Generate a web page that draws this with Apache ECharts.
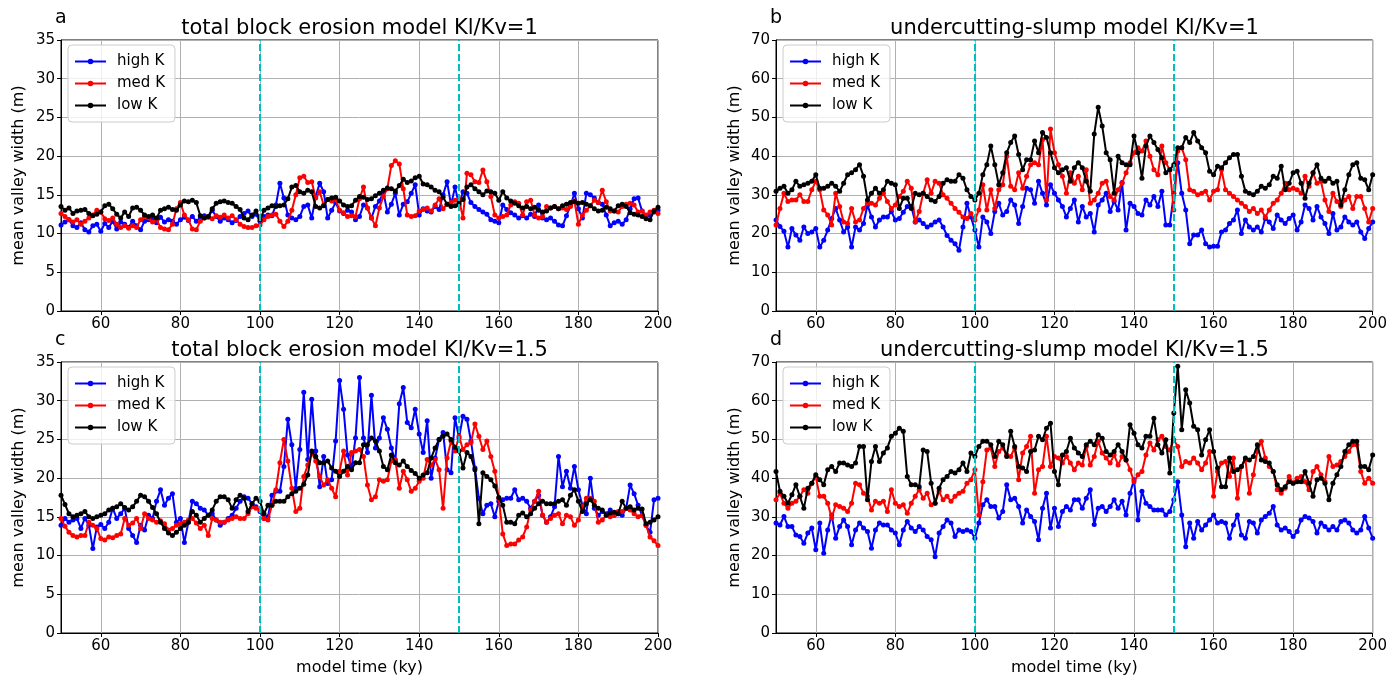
<!DOCTYPE html>
<html>
<head>
<meta charset="utf-8">
<script src="https://cdn.jsdelivr.net/npm/echarts@6/dist/echarts.min.js"></script>
<style>
html,body{margin:0;padding:0;background:#fff;}
#chart{width:1390px;height:677px;}
</style>
</head>
<body>
<div id="chart"></div>
<script>
// model time (ky): one sample per ky from 50 to 200
const timeStart = 50, timeEnd = 200;
const xTicks = [60, 80, 100, 120, 140, 160, 180, 200];
const yTicksA = [0, 5, 10, 15, 20, 25, 30, 35];
const yTicksB = [0, 10, 20, 30, 40, 50, 60, 70];
const transitions = [100, 150];
const seriesNames = ['high K', 'med K', 'low K'];
const panelTitles = [
  'total block erosion model Kl/Kv=1',
  'undercutting-slump model Kl/Kv=1',
  'total block erosion model Kl/Kv=1.5',
  'undercutting-slump model Kl/Kv=1.5'
];
const panelLetters = ['a', 'b', 'c', 'd'];

// ---- panel a ----
const aHigh = [
11.1,11.5,11.8,11.0,10.8,11.4,10.5,10.2,11.0,11.2,
10.3,11.3,10.8,11.6,10.6,11.5,11.2,10.8,11.6,11.0,
10.5,11.6,11.8,12.0,11.4,12.1,11.5,11.8,11.6,11.2,
11.8,12.1,11.7,12.2,11.6,12.0,12.3,12.1,13.0,12.2,
11.6,12.0,11.8,11.4,11.7,12.2,12.6,12.9,12.2,12.5,
11.6,12.2,12.4,12.3,13.7,16.5,14.6,12.4,12.0,11.8,
12.2,13.5,13.7,12.0,14.8,16.5,15.4,12.0,13.0,14.0,
12.9,12.6,13.0,12.8,11.8,12.2,13.7,13.3,12.0,13.5,
14.2,15.3,12.8,13.8,15.2,12.4,13.8,14.1,15.2,16.3,
12.4,13.2,12.9,12.8,13.5,13.1,15.0,16.7,13.7,16.0,
13.7,15.4,15.2,14.0,13.5,13.1,12.8,12.5,11.8,11.6,
11.4,13.7,13.1,12.7,12.4,12.0,12.3,12.0,12.5,12.2,
13.7,12.0,11.8,12.0,11.6,11.1,11.0,12.3,13.6,15.2,
13.2,12.0,15.2,15.0,14.6,14.0,13.8,12.4,11.0,11.4,
11.6,11.2,11.8,13.2,14.5,14.6,12.9,12.2,12.4,12.8,
13.0];
const aMed = [
12.6,12.2,11.8,11.5,11.8,11.2,11.6,12.0,12.4,13.0,
12.8,11.9,11.7,12.0,11.2,10.8,11.0,10.7,11.0,10.8,
11.8,12.2,12.0,11.5,11.8,10.8,10.6,10.5,11.2,13.2,
14.0,12.4,11.8,10.6,10.5,11.6,12.0,12.2,11.9,12.3,
12.1,12.4,12.0,12.3,11.8,11.2,10.9,10.8,10.8,11.0,
11.1,11.8,12.2,12.4,12.5,11.6,10.9,11.6,13.0,15.0,
17.2,17.4,16.6,16.7,14.6,15.4,13.7,14.4,14.2,14.4,
13.0,12.7,12.2,12.3,12.2,14.5,16.0,13.3,12.0,11.0,
13.3,14.8,15.8,18.8,19.4,19.0,15.8,12.4,12.2,12.3,
12.9,13.1,13.3,12.9,13.7,14.5,13.2,13.8,14.0,14.3,
14.5,12.0,17.8,17.6,16.7,16.6,18.2,16.7,14.8,12.4,
12.0,12.2,12.4,13.7,14.1,13.9,12.4,14.1,14.3,12.4,
12.0,12.2,13.5,13.3,13.5,13.2,13.3,13.1,13.5,14.2,
11.2,12.4,13.0,13.6,14.3,14.0,15.6,14.1,12.9,12.9,
12.8,13.5,13.8,13.9,13.7,12.8,12.9,12.4,12.8,13.0,
12.6];
const aLow = [
13.5,13.0,13.3,12.6,12.9,13.0,13.1,12.6,12.3,12.5,
12.8,13.6,13.8,13.2,12.5,12.0,12.8,12.2,13.3,13.4,
13.0,12.4,12.2,12.4,12.0,13.0,13.2,13.4,13.1,13.0,
13.7,14.2,14.1,14.3,14.0,12.3,12.0,12.2,13.2,13.9,
14.1,14.2,14.0,13.9,13.5,13.1,12.0,11.8,12.4,12.9,
11.8,13.0,13.3,13.6,13.5,13.6,13.7,14.5,16.0,16.2,
15.4,15.2,15.6,15.4,13.5,13.3,13.6,14.4,14.6,14.7,
14.2,13.7,13.5,13.6,14.3,14.8,14.7,14.4,14.5,14.9,
15.2,15.6,15.9,15.8,15.5,16.2,17.0,16.6,16.8,17.2,
17.4,16.4,16.3,16.0,15.6,15.4,14.7,13.8,13.5,13.6,
13.9,14.4,16.0,16.3,15.8,15.4,15.0,15.5,15.4,15.2,
14.3,15.4,14.6,14.2,13.9,13.6,13.3,13.5,13.2,13.4,
13.0,12.8,12.9,13.3,13.5,13.2,13.6,13.8,14.0,14.1,
13.9,14.0,13.8,13.6,13.2,12.9,13.0,13.4,13.2,12.9,
13.6,13.8,13.5,12.7,12.5,12.4,12.2,11.9,11.8,12.9,
13.4];

// ---- panel b ----
const bHigh = [
23.5,21.8,20.6,16.5,21.3,19.6,18.3,21.7,20.0,20.4,
21.3,16.5,18.3,20.9,23.9,26.5,23.5,20.4,21.7,16.5,
21.7,20.9,22.6,27.4,24.3,21.7,23.5,24.3,24.3,25.7,
23.5,23.9,25.5,27.0,27.0,23.0,23.5,22.6,21.7,22.2,
23.0,23.5,21.7,19.5,18.3,17.4,15.7,21.7,27.8,24.3,
20.9,16.5,24.3,23.0,20.0,25.7,27.8,24.8,25.7,28.7,
27.4,22.6,27.0,31.7,31.3,27.8,33.5,30.4,27.4,32.6,
30.4,28.7,27.0,24.3,26.5,28.7,23.0,27.0,24.3,25.2,
20.4,27.4,28.7,30.4,25.7,28.3,26.1,33.2,20.9,27.8,
27.0,25.2,24.8,28.7,27.4,29.6,27.0,30.9,22.2,22.2,
30.4,38.3,30.4,26.1,17.4,19.6,19.6,20.9,17.4,16.5,
16.7,16.7,20.4,20.9,22.6,23.5,26.1,20.0,23.5,21.7,
20.9,21.7,20.4,23.9,23.0,21.3,24.8,23.5,22.6,23.9,
24.8,20.9,23.0,27.4,26.5,23.5,27.0,24.3,22.6,20.0,
25.2,20.9,21.7,24.3,23.0,22.2,23.0,20.4,18.7,21.3,
23.0];
const bMed = [
22.2,26.5,30.4,28.3,28.7,28.7,30.0,28.3,28.3,31.3,
33.5,31.3,26.1,24.8,22.2,30.4,27.0,23.0,22.6,26.5,
23.0,23.5,26.5,27.8,27.8,27.4,29.1,30.4,28.3,26.5,
27.4,29.6,30.9,33.5,31.7,23.0,25.7,30.4,33.9,30.4,
33.5,33.0,30.0,29.1,27.8,26.5,25.5,24.3,23.9,25.2,
23.5,26.1,32.6,26.1,31.3,26.5,31.3,32.6,40.0,32.2,
31.3,35.7,31.7,34.8,37.8,38.3,37.8,44.3,28.7,47.0,
40.9,37.8,34.8,30.4,35.7,33.0,34.8,31.3,36.5,27.8,
28.7,30.4,33.0,33.5,29.6,28.7,31.3,33.0,35.7,38.3,
40.9,42.2,41.3,43.9,40.0,36.5,35.2,42.6,38.3,36.5,
26.1,41.3,42.2,39.1,31.3,30.9,30.0,30.4,30.9,28.7,
30.9,31.3,36.5,31.3,30.4,29.6,28.7,27.8,27.0,25.7,
26.5,25.2,26.1,24.3,26.1,27.8,28.7,30.4,33.0,31.3,
31.7,31.3,30.4,34.8,32.2,35.7,33.0,33.5,28.7,25.7,
30.4,28.3,27.0,28.7,29.6,26.5,29.6,29.6,26.5,23.0,
26.5];
const bLow = [
30.9,31.7,32.2,30.4,31.3,33.5,32.2,32.6,33.0,33.5,
35.2,31.7,31.7,32.2,33.0,32.2,30.9,33.0,35.2,35.7,
36.5,37.8,34.8,28.7,30.4,31.7,30.4,31.3,33.5,33.0,
32.6,26.5,29.1,29.1,26.5,30.4,30.0,30.4,29.6,28.7,
28.3,29.6,33.0,33.9,33.5,33.5,35.2,34.3,31.3,29.6,
28.7,30.4,35.2,37.8,42.6,37.8,32.6,35.7,40.9,43.5,
45.2,40.4,36.5,39.1,39.1,43.9,40.9,46.1,44.8,40.9,
37.0,35.7,36.5,37.0,33.5,37.0,38.3,37.0,33.5,30.9,
45.7,52.6,47.8,40.9,39.1,30.4,40.0,38.3,37.8,37.8,
45.2,40.9,34.3,42.6,45.2,43.5,41.7,39.6,35.7,36.5,
37.8,42.2,42.2,44.8,43.5,46.1,43.9,42.2,40.9,36.1,
35.2,37.4,37.0,38.3,39.6,40.4,40.4,34.8,30.9,30.4,
30.0,30.9,32.2,31.7,32.6,34.8,34.3,37.4,31.3,33.0,
35.7,36.1,33.0,29.1,33.0,35.7,37.8,34.3,33.5,34.3,
33.0,33.5,27.4,31.3,35.2,37.8,38.3,34.3,33.9,31.3,
35.2];

// ---- panel c ----
const cHigh = [
13.9,14.8,14.3,14.6,14.8,13.5,14.8,13.9,10.9,13.7,
14.0,13.5,14.3,16.1,14.8,15.4,16.1,13.5,12.6,11.7,
13.9,13.3,15.2,14.8,17.0,18.5,16.5,17.4,18.0,14.3,
14.8,11.7,14.3,17.0,16.7,16.1,15.9,15.2,15.4,14.6,
13.9,14.3,14.8,15.2,16.1,17.0,17.6,17.4,16.7,16.3,
15.7,14.8,15.0,17.8,18.3,18.3,21.5,27.6,24.3,18.7,
23.7,31.1,22.4,30.2,23.5,18.9,22.8,19.3,19.8,24.8,
32.6,28.9,23.0,21.3,25.2,33.0,25.2,23.3,30.7,23.9,
25.2,27.8,26.3,23.9,22.2,29.6,31.7,27.2,26.5,28.9,
25.7,23.3,27.4,20.0,22.6,25.0,25.9,21.1,20.7,27.8,
25.2,28.0,27.6,24.8,21.3,17.4,15.4,16.5,16.7,15.0,
17.0,17.2,17.4,17.4,18.5,17.2,17.4,17.0,16.1,17.0,
17.8,15.2,14.3,15.0,16.3,22.8,18.9,20.9,18.7,21.5,
18.5,16.5,15.4,20.0,16.1,15.2,15.7,15.4,15.9,15.2,
15.4,15.2,16.1,19.1,18.0,16.5,15.2,13.9,13.0,17.2,
17.4];
const cMed = [
14.8,13.8,13.0,12.6,12.4,12.6,12.6,14.3,13.9,13.5,
12.2,12.0,12.4,12.3,12.6,12.8,14.8,13.9,14.2,14.8,
13.5,15.4,14.8,14.6,14.3,14.5,14.1,13.3,13.5,13.9,
14.1,14.3,14.6,14.8,14.2,13.5,13.9,12.6,14.8,14.6,
14.3,14.3,14.6,14.8,15.0,14.8,14.8,15.4,16.3,16.1,
15.9,14.8,14.6,16.5,18.5,22.0,25.0,22.2,18.7,15.7,
16.1,20.2,21.7,23.3,22.2,20.2,19.1,19.8,18.7,17.6,
20.9,23.5,20.4,23.3,23.5,23.7,22.8,19.1,17.2,17.6,
19.8,19.6,19.8,22.2,22.4,18.7,20.9,19.8,18.3,18.7,
19.6,20.0,22.4,21.7,22.4,21.1,16.1,22.6,24.8,23.5,
25.4,23.7,24.3,24.6,27.0,25.4,23.7,24.8,22.8,20.9,
17.4,12.8,11.3,11.5,11.5,12.0,12.4,13.7,15.9,17.0,
18.3,15.2,14.3,14.8,15.2,15.4,14.1,15.2,15.0,13.9,
14.6,16.3,17.4,17.4,17.0,14.3,14.6,15.2,15.0,15.2,
15.7,15.7,16.1,15.9,15.4,15.0,15.2,13.9,12.4,11.9,
11.3];
const cLow = [
17.8,16.6,15.4,15.0,15.2,15.4,15.7,15.0,14.8,15.0,
15.2,15.4,15.9,16.1,16.3,16.7,16.2,15.9,16.3,17.0,
17.8,17.6,17.0,16.2,15.4,14.3,13.5,12.9,12.6,13.0,
13.5,13.9,14.3,15.7,15.2,14.3,14.8,15.2,15.9,17.0,
17.6,17.6,17.2,16.1,17.2,17.8,17.4,15.7,16.7,17.4,
17.0,15.4,16.5,16.5,17.0,17.0,17.0,17.6,18.0,18.3,
18.7,19.2,20.4,23.5,22.8,22.0,22.0,22.2,21.3,20.9,
20.2,20.9,21.5,21.1,22.0,22.0,24.3,24.3,25.2,24.8,
23.5,21.5,21.1,23.0,22.0,21.7,22.2,21.5,21.0,20.6,
20.0,20.4,20.7,22.6,23.9,25.0,25.4,25.7,25.0,24.0,
23.5,21.3,23.3,22.8,21.1,14.1,20.7,20.2,19.8,19.0,
17.5,16.5,14.3,14.3,14.1,15.2,15.5,15.0,15.4,16.1,
16.7,17.0,16.7,16.7,16.7,17.0,17.2,16.5,17.8,18.5,
17.0,15.7,16.7,17.2,16.5,16.1,15.9,15.2,15.5,15.6,
15.4,17.0,16.1,16.3,15.9,16.1,16.0,14.1,14.3,14.6,
15.0];

// ---- panel d ----
const dHigh = [
28.4,27.9,30.1,27.5,27.5,25.3,24.9,23.2,25.8,27.1,
21.5,28.4,20.6,26.6,30.5,24.5,27.5,29.2,27.5,22.8,
26.6,28.4,27.1,26.2,21.9,26.6,28.4,27.9,27.9,26.6,
25.8,22.8,26.6,28.8,27.1,26.2,27.5,26.6,24.9,24.1,
19.7,25.8,27.5,29.2,28.4,24.9,26.6,26.2,26.6,26.2,
24.5,28.4,33.1,34.4,32.7,32.7,29.7,31.4,38.3,34.4,
34.8,32.7,28.4,31.8,30.1,28.8,24.1,32.2,36.1,27.1,
32.2,27.5,31.4,32.7,31.8,34.4,34.4,32.2,34.8,37.0,
28.0,32.2,32.7,31.4,32.7,34.4,32.2,34.0,30.5,36.1,
39.6,29.2,36.6,33.5,32.7,31.8,31.8,31.8,30.5,31.4,
34.4,39.1,30.5,22.3,28.4,24.5,28.8,26.6,27.9,29.2,
30.5,28.4,28.8,28.4,24.5,27.9,30.5,25.3,24.5,28.8,
28.4,25.8,29.2,30.1,30.9,32.7,27.9,26.6,27.1,26.2,
24.9,26.2,29.2,30.1,29.7,28.8,25.8,28.4,27.5,26.6,
27.5,26.6,28.8,29.2,28.4,26.6,25.8,26.6,30.1,27.1,
24.5];
const dMed = [
34.4,36.1,33.5,32.2,33.5,34.0,35.3,37.0,36.1,38.7,
40.4,35.3,35.3,33.5,29.7,33.1,32.7,32.2,31.4,33.5,
38.7,38.3,36.1,35.3,31.8,34.0,33.5,34.0,31.4,37.0,
33.5,32.7,33.1,30.9,33.5,35.3,37.0,34.8,36.1,33.1,
33.5,36.6,34.4,35.3,34.0,35.3,36.1,36.6,38.7,39.6,
42.2,30.5,39.1,47.3,47.8,43.0,46.9,47.8,46.0,45.6,
47.8,39.6,46.5,48.2,50.8,36.1,42.2,43.0,50.8,43.0,
45.6,45.2,43.9,45.6,43.9,42.2,43.9,43.4,48.2,43.4,
45.6,49.5,46.5,45.2,43.9,46.0,43.4,45.6,44.7,42.2,
39.1,40.9,41.7,46.0,49.1,47.3,49.9,50.8,48.2,47.3,
49.9,48.2,43.0,44.3,43.9,45.2,43.9,42.2,43.9,46.9,
35.3,41.7,43.9,44.3,40.4,45.2,34.8,43.0,44.7,36.1,
40.9,46.9,49.5,45.2,43.0,41.7,37.0,36.1,37.4,40.4,
38.7,40.0,40.4,39.1,37.0,41.7,43.0,40.9,39.1,45.6,
43.0,43.4,44.3,45.6,46.9,48.6,48.6,41.7,38.7,40.0,
38.7];
const dLow = [
41.7,36.6,35.3,33.5,35.7,38.3,35.3,32.2,37.4,38.7,
40.9,39.6,38.3,42.2,43.0,41.7,43.9,43.9,43.4,43.0,
43.9,48.2,48.2,34.4,44.3,48.2,44.3,46.5,47.8,50.8,
51.6,52.9,52.1,40.4,38.3,38.3,37.8,47.3,46.9,38.7,
33.5,37.4,39.6,40.4,41.7,41.3,42.2,43.9,41.7,46.5,
45.6,48.2,49.5,49.5,48.6,45.6,49.5,48.6,45.6,52.1,
48.2,43.0,42.6,41.7,46.9,47.3,50.8,49.9,52.9,54.2,
41.7,38.3,46.0,46.9,50.3,47.8,46.5,45.6,48.6,49.5,
48.6,51.2,50.3,46.9,46.0,46.9,48.6,46.9,44.7,53.8,
51.6,48.6,47.8,50.8,50.8,55.5,48.6,46.5,49.9,41.3,
56.8,68.9,52.5,62.8,59.4,53.4,52.5,46.0,49.9,52.5,
46.9,42.6,37.8,37.8,45.2,41.7,42.2,43.0,45.2,44.7,
45.6,48.6,44.7,44.3,43.9,41.7,38.3,37.0,37.8,39.1,
38.7,39.1,39.1,41.7,38.7,35.3,39.6,40.0,38.7,34.4,
38.7,40.9,43.0,46.9,48.6,49.5,49.5,43.0,43.0,42.2,
46.0];

// ---------- build chart ----------
const times = [];
for (let t = timeStart; t <= timeEnd; t++) times.push(t);

const panelData = [
  [aHigh, aMed, aLow],
  [bHigh, bMed, bLow],
  [cHigh, cMed, cLow],
  [dHigh, dMed, dLow]
];
const colors = ['#0000ff', '#ff0000', '#000000'];
const FONT = 'DejaVu Sans';

const grids = [
  {left: 61, top: 40, width: 597, height: 271},
  {left: 776, top: 40, width: 597, height: 271},
  {left: 61, top: 362, width: 597, height: 271},
  {left: 776, top: 362, width: 597, height: 271}
];

const option = {
  animation: false,
  backgroundColor: '#ffffff',
  textStyle: {fontFamily: FONT},
  grid: grids.map(g => Object.assign({show: true, borderColor: '#000', borderWidth: 1, backgroundColor: 'transparent', containLabel: false}, g)),
  xAxis: grids.map((g, i) => ({
    type: 'value', gridIndex: i, min: timeStart, max: timeEnd,
    name: i >= 2 ? 'model time (ky)' : '',
    nameLocation: 'middle', nameGap: 27,
    nameTextStyle: {fontSize: 16, color: '#000', fontFamily: FONT},
    axisLine: {show: true, onZero: false, lineStyle: {color: '#000', width: 1}},
    axisTick: {show: true, length: 4, customValues: xTicks, lineStyle: {color: '#000', width: 1}},
    axisLabel: {customValues: xTicks, fontSize: 15, color: '#000', margin: 6, fontFamily: FONT},
    splitLine: {show: true, lineStyle: {color: '#b0b0b0', width: 1}}
  })),
  yAxis: grids.map((g, i) => {
    const ticks = (i % 2 === 0) ? yTicksA : yTicksB;
    return {
      type: 'value', gridIndex: i, min: ticks[0], max: ticks[ticks.length - 1],
      interval: ticks[1] - ticks[0],
      name: 'mean valley width (m)', nameLocation: 'middle', nameGap: (i % 2 === 0) ? 34 : 33,
      nameTextStyle: {fontSize: 16, color: '#000', fontFamily: FONT},
      axisLine: {show: true, onZero: false, lineStyle: {color: '#000', width: 1}},
      axisTick: {show: true, length: 4, lineStyle: {color: '#000', width: 1}},
      axisLabel: {fontSize: 15, color: '#000', margin: 6, fontFamily: FONT},
      splitLine: {show: true, lineStyle: {color: '#b0b0b0', width: 1}}
    };
  }),
  legend: grids.map((g, i) => ({
    data: seriesNames,
    orient: 'vertical',
    left: g.left + 7, top: g.top + 5,
    backgroundColor: 'rgba(255,255,255,0.8)',
    borderColor: '#cccccc', borderWidth: 1, borderRadius: 4,
    padding: [9, 10, 9, 6],
    itemGap: 7, itemWidth: 31, itemHeight: 7,
    textStyle: {fontSize: 15, color: '#000', fontFamily: FONT, padding: [0, 0, 0, 6]},
    selectedMode: false
  })),
  series: [],
  graphic: []
};

panelData.forEach((arrs, p) => {
  arrs.forEach((arr, k) => {
    const s = {
      type: 'line', name: seriesNames[k], xAxisIndex: p, yAxisIndex: p,
      data: times.map((t, j) => [t, arr[j]]),
      symbol: 'circle', symbolSize: 5, showSymbol: true,
      lineStyle: {color: colors[k], width: 2},
      itemStyle: {color: colors[k]},
      emphasis: {disabled: true},
      z: 2 + k
    };
    if (k === 2) {
      s.markLine = {
        silent: true, symbol: ['none', 'none'],
        label: {show: false},
        lineStyle: {color: '#00bfbf', width: 2, type: [7, 3]},
        data: transitions.map(v => ({xAxis: v}))
      };
    }
    option.series.push(s);
  });
  const g = grids[p];
  option.graphic.push({
    type: 'text', x: g.left + g.width / 2, y: g.top - 11,
    style: {text: panelTitles[p], fontSize: 21, fill: '#000', fontFamily: FONT, align: 'center', verticalAlign: 'middle'}
  });
  option.graphic.push({
    type: 'text', x: g.left - 6, y: g.top - 22,
    style: {text: panelLetters[p], fontSize: 19, fill: '#000', fontFamily: FONT, align: 'left', verticalAlign: 'middle'}
  });
});

// sanity check on data lengths
const bad = panelData.flat().map(a => a.length).filter(n => n !== times.length);
if (bad.length) {
  option.graphic.push({type: 'text', x: 600, y: 330, style: {text: 'LEN ' + bad.join(','), fontSize: 30, fill: 'magenta'}});
}

const chart = echarts.init(document.getElementById('chart'), null, {renderer: 'canvas'});
chart.setOption(option);
</script>
</body>
</html>
